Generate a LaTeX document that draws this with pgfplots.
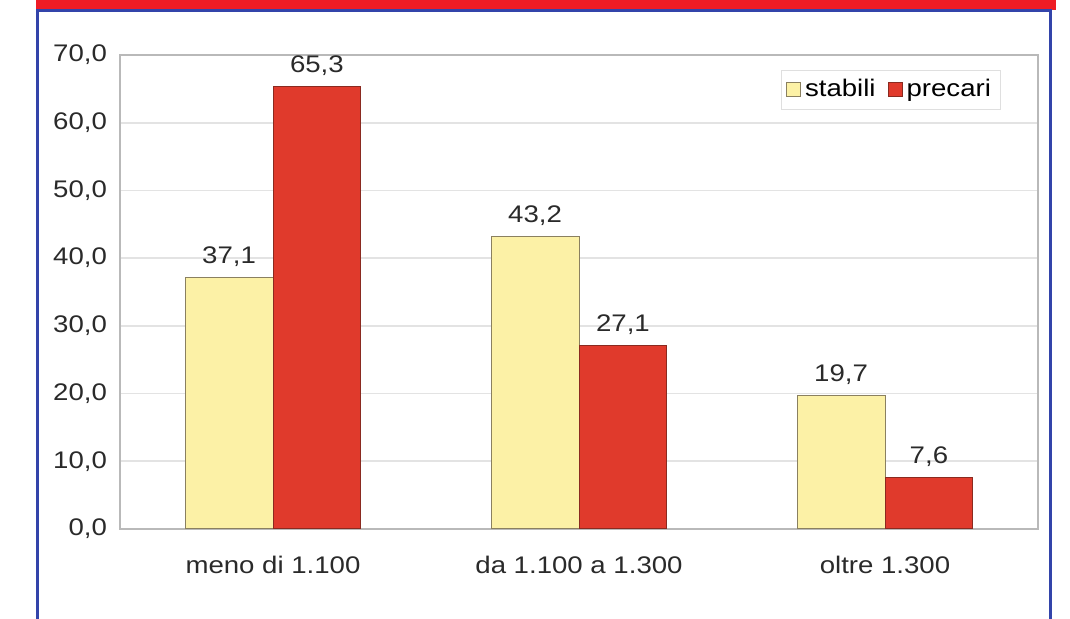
\documentclass[border=0pt]{standalone}
\usepackage{fontspec}
\setmainfont[FakeStretch=1.15]{Liberation Sans}
\usepackage{pgfplots}
\pgfplotsset{compat=1.18}
\definecolor{stab}{HTML}{FCF1A6}
\definecolor{stabedge}{HTML}{8A8060}
\definecolor{prec}{HTML}{E03A2C}
\definecolor{precedge}{HTML}{8A2A20}
\definecolor{bandred}{HTML}{EE1C25}
\definecolor{frameblue}{HTML}{3344AA}
\definecolor{txt}{HTML}{2A2A2A}
\begin{document}
\begin{tikzpicture}[x=0.5pt,y=0.5pt]
\useasboundingbox (0,0) rectangle (1070,619);
\fill[white] (0,0) rectangle (1070,619);
\fill[bandred] (36,609) rectangle (1056,619);
\draw[frameblue, line width=1.5pt] (37.5,0) -- (37.5,608.5) -- (1050.5,608.5) -- (1050.5,0);
\begin{axis}[
    at={(60pt,45pt)}, anchor=south west,
    scale only axis, width=459pt, height=237pt,
    font=\fontsize{12}{14}\selectfont\color{txt},
    ymin=0, ymax=70, ytick={0,10,...,70},
    xmin=-0.5, xmax=2.5,
    xtick={0,1,2},
    xticklabels={meno di 1.100, da 1.100 a 1.300, oltre 1.300},
    major tick length=0pt,
    ymajorgrids=true,
    major grid style={gray!22, line width=0.8pt},
    axis line style={gray!55, line width=0.8pt},
    /pgf/number format/assume math mode=true,
    yticklabel style={/pgf/number format/.cd, fixed, fixed zerofill, precision=1, use comma, /tikz/.cd, xshift=-3pt},
    xticklabel style={yshift=-10pt},
    ybar, bar width=0.287,
    nodes near coords,
    nodes near coords style={/pgf/number format/.cd, fixed, fixed zerofill, precision=1, use comma, /tikz/.cd, yshift=2pt, color=txt},
    legend style={at={(0.959,0.968)}, anchor=north east, draw=gray!25, fill=white,
        font=\fontsize{12}{14}\selectfont, inner sep=2.5pt,
        /tikz/every even column/.append style={column sep=4pt}},
    legend columns=2,
    legend image code/.code={\fill[#1] (0pt,-3.5pt) rectangle (7pt,3.5pt);},
]
\addplot[fill=stab, draw=stabedge, line width=0.5pt, bar shift=-0.1435]
    coordinates {(0,37.1) (1,43.2) (2,19.7)};
\addplot[fill=prec, draw=precedge, line width=0.5pt, bar shift=0.1435]
    coordinates {(0,65.3) (1,27.1) (2,7.6)};
\legend{stabili, precari}
\end{axis}
\end{tikzpicture}
\end{document}
